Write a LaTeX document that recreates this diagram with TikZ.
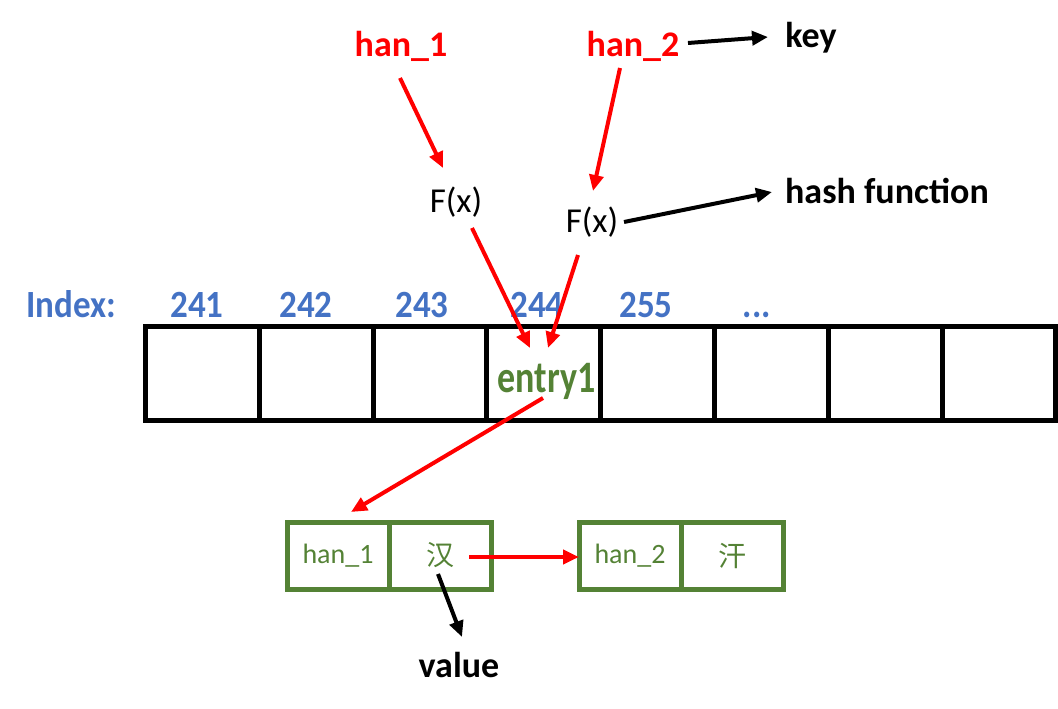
\documentclass[tikz,border=0pt]{standalone}
\usepackage{fontspec}
\setmainfont{Carlito}
\newfontfamily\cjk{Noto Sans CJK SC}
\usetikzlibrary{arrows.meta,calc}
\definecolor{hred}{HTML}{FF0000}
\definecolor{hblue}{HTML}{4472C4}
\definecolor{hgreen}{HTML}{548235}
\tikzset{
  boldtxt/.style={font=\fontsize{36}{40}\selectfont\bfseries, inner sep=0pt, anchor=base},
  keytxt/.style={boldtxt, text=hred},
  fxtxt/.style={font=\fontsize{35}{40}\selectfont, inner sep=0pt, anchor=base},
  idxtxt/.style={font=\fontsize{35}{40}\selectfont\bfseries, text=hblue, inner sep=0pt, anchor=base},
  cell/.style={draw=black, line width=5pt, minimum width=113.8pt, minimum height=94pt, outer sep=0pt},
  pair/.style={draw=hgreen, line width=5pt, minimum width=102pt, minimum height=67pt, outer sep=0pt, inner sep=0pt, text=hgreen, font=\fontsize{28}{32}\selectfont},
  redarrow/.style={draw=hred, line width=4pt, -{Triangle[length=16pt,width=14pt]}},
  blackarrow/.style={draw=black, line width=4pt, -{Triangle[length=16pt,width=14pt]}}
}
\begin{document}
\begin{tikzpicture}[x=1pt,y=-1pt]
\useasboundingbox (0,0) rectangle (1058,709);
% keys
\node[keytxt] (h1) at (401,57) {han\_1};
\node[keytxt] (h2) at (633,57) {han\_2};
\node[boldtxt] (key) at (811,48) {key};
% hash functions
\node[fxtxt] (f1) at (456,212) {F(x)};
\node[fxtxt] (f2) at (592,232) {F(x)};
\node[boldtxt] (hash) at (887,203) {hash function};
% index labels
\node[idxtxt] (idx) at (71,317) {\scalebox{1}[1.1]{Index:}};
\node[idxtxt] (i1) at (197,317) {\scalebox{1}[1.1]{241}};
\node[idxtxt] (i2) at (306,317) {\scalebox{1}[1.1]{242}};
\node[idxtxt] (i3) at (422,317) {\scalebox{1}[1.1]{243}};
\node[idxtxt] (i4) at (537,317) {\scalebox{1}[1.1]{244}};
\node[idxtxt] (i5) at (646,317) {\scalebox{1}[1.1]{255}};
\node[idxtxt] (i6) at (757,317) {\scalebox{1}[1.1]{...}};
% array cells
\foreach \i in {1,...,8} {
  \node[cell] (c\i) at ({202.4+113.8*(\i-1)},373) {};
}
\node[boldtxt, text=hgreen] (entry) at (546.5,392) {\scalebox{1}[1.25]{entry1}};
% linked entries
\node[pair] (k1) at (338,555.5) {han\_1};
\node[pair] (v1) at (440,555.5) {\cjk 汉};
\node[pair] (k2) at (630,555.5) {han\_2};
\node[pair] (v2) at (732,555.5) {\cjk 汗};
\node[boldtxt] (value) at (459,677) {value};
% connectors
\draw[redarrow] ($(h1.base)+(-1,21)$) -- ($(f1.base)+(-13,-44)$);
\draw[redarrow] ($(h2.base)+(-13,11)$) -- ($(f2.base)+(1,-41)$);
\draw[blackarrow] ($(h2.base)+(55,-14)$) -- ($(key.base)+(-43,-11)$);
\draw[blackarrow] ($(f2.base)+(32,-10)$) -- ($(hash.base)+(-115,-11)$);
\draw[redarrow] ($(f1.base)+(16,16)$) -- ($(entry.base)+(-16.5,-44)$);
\draw[redarrow] ($(f2.base)+(-14,23)$) -- ($(entry.base)+(1.5,-44)$);
\draw[redarrow] ($(entry.base)+(-3.5,6)$) -- ($(k1.center)+(13,-43.5)$);
\draw[redarrow] ($(v1.center)+(29,1.5)$) -- ($(k2.west)+(0,1.5)$);
\draw[blackarrow] ($(v1.center)+(-2,18.5)$) -- ($(value.base)+(3,-40)$);
\end{tikzpicture}
\end{document}
